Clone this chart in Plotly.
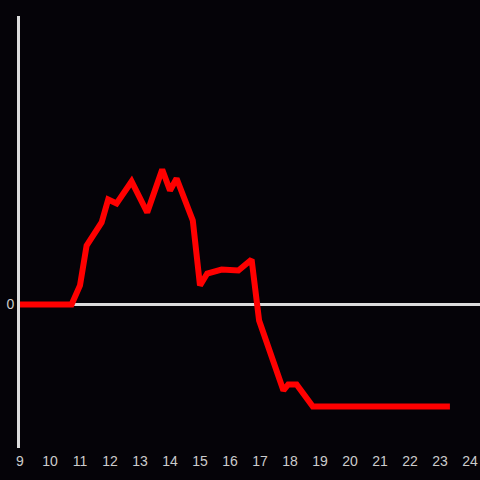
import plotly.graph_objects as go

hours = [9.0, 10.72, 11.0, 11.22, 11.72, 11.94, 12.22, 12.72, 13.24, 13.74, 14.0, 14.22,
         14.76, 15.0, 15.24, 15.72, 16.28, 16.72, 16.97, 17.78, 17.94, 18.22, 18.76, 23.33]
values = [0.0, 0.0, 0.19, 0.59, 0.82, 1.05, 1.01, 1.23, 0.92, 1.35, 1.14, 1.26,
          0.84, 0.19, 0.31, 0.35, 0.34, 0.45, -0.16, -0.86, -0.80, -0.80, -1.02, -1.02]
x_ticks = list(range(9, 25))

bg = "#050308"
axis_col = "#dcdcdc"
text_col = "#cccccc"

fig = go.Figure(go.Scatter(x=hours, y=values, mode="lines",
                           line=dict(color="#ff0000", width=6), hoverinfo="skip"))
fig.update_layout(
    width=480, height=480,
    margin=dict(l=20, r=0, t=16, b=32),
    paper_bgcolor=bg, plot_bgcolor=bg,
    showlegend=False,
    font=dict(family="Liberation Sans, Arial, sans-serif", size=14, color=text_col),
)
fig.update_xaxes(range=[9, 24.333], tickvals=x_ticks, ticktext=[str(t) for t in x_ticks],
                 showgrid=False, zeroline=False, showline=False, ticks="",
                 ticklabelstandoff=3)
fig.update_yaxes(range=[-1.435, 2.885], tickvals=[0], ticktext=["0"], showgrid=False,
                 zeroline=True, zerolinecolor=axis_col, zerolinewidth=3,
                 showline=True, linecolor=axis_col, linewidth=3, ticks="")
fig.write_html("out.html", config={"displayModeBar": False}, post_script=(
    "document.body.style.margin='0';document.body.style.padding='0';"
    "document.body.style.background='%s';document.body.style.overflow='hidden';" % bg))
